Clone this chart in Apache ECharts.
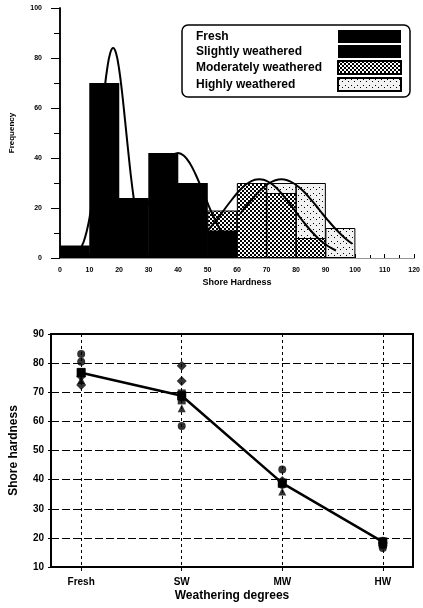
<!DOCTYPE html>
<html><head><meta charset="utf-8">
<script src="https://cdn.jsdelivr.net/npm/echarts@6/dist/echarts.min.js"></script>
<style>html,body{margin:0;padding:0;background:#fff}#c{width:423px;height:608px}</style>
</head><body><div id="c"></div>
<script>
// ---------- Top chart: histogram of Shore hardness ----------
const legendNames = ['Fresh', 'Slightly weathered', 'Moderately weathered', 'Highly weathered'];
const freshBins = [5, 15, 25];
const freshFreq = [5, 70, 24];
const swBins = [35, 45, 55];
const swFreq = [42, 30, 11];
const mwBins = [55, 65, 75, 85];
const mwFreq = [19, 30, 26, 8];
const hwBins = [75, 85, 95];
const hwFreq = [30, 30, 12];
const xTicksTop = [0, 10, 20, 30, 40, 50, 60, 70, 80, 90, 100, 110, 120];
// fitted curves
const curve1X = [6, 8, 10, 12, 13, 14, 15, 16, 17, 18, 19, 20, 21, 22, 23, 24, 25, 26, 28, 30];
const curve1Y = [2, 6.4, 16, 33, 44, 55.5, 66.6, 75.8, 81.9, 84, 81.9, 75.8, 66.6, 55.5, 44, 33, 23.7, 16, 6.4, 2];
const curve2X = [20, 22, 24, 26, 28, 30, 32, 34, 36, 38, 40, 42, 44, 46, 48, 50, 52, 54, 56, 58, 60];
const curve2Y = [3.2, 5.2, 8, 11.9, 16.6, 22, 27.8, 33.3, 37.9, 40.9, 42, 40.9, 37.9, 33.3, 27.8, 22, 16.6, 11.9, 8, 5.2, 3.2];
const curve3X = [50, 52, 54, 56, 58, 60, 62, 64, 66, 67.5, 69, 71, 73, 75, 77, 79, 81, 83, 85, 87, 89, 91, 93.5];
const curve3Y = [10.9, 13.7, 16.7, 19.9, 23, 25.9, 28.4, 30.2, 31.3, 31.5, 31.3, 30.2, 28.4, 25.9, 23, 19.9, 16.7, 13.7, 10.9, 8.4, 6.3, 4.6, 3];
const curve4X = [61, 63, 65, 67, 69, 71, 73, 75, 77, 79, 81, 83, 85, 87, 89, 91, 93, 95, 97, 99];
const curve4Y = [17.6, 20.6, 23.4, 26.1, 28.3, 30, 31.1, 31.5, 31.1, 30, 28.3, 26.1, 23.4, 20.6, 17.6, 14.8, 12.1, 9.7, 7.5, 5.7];

// ---------- Bottom chart: Shore hardness vs weathering degree ----------
const degreeLabels = ['Fresh', 'SW', 'MW', 'HW'];
const degreeIndex = [1, 2, 3, 4];
const meanHardness = [76.7, 68.8, 38.8, 18.6];
const circlePts = [[1, 83.1], [1, 80.5], [2, 68.2], [2, 58.4], [3, 43.5], [3, 38.2], [4, 17.4], [4, 16.5], [4, 19.0]];
const diamondPts = [[1, 75.5], [1, 72.5], [2, 79.1], [2, 73.9], [3, 39.5], [4, 18.2]];
const trianglePts = [[1, 74.2], [2, 64.5], [3, 35.9]];
const squarePts = [[1, 77.0], [2, 69.6], [2, 67.2], [3, 38.7], [4, 17.8]];

const FONT = "'Liberation Sans', Arial, sans-serif";

function makePattern(size, dots, bg) {
  const c = document.createElement('canvas');
  c.width = size; c.height = size;
  const g = c.getContext('2d');
  g.fillStyle = bg; g.fillRect(0, 0, size, size);
  g.fillStyle = '#000';
  dots.forEach(d => g.fillRect(d[0], d[1], d[2], d[2]));
  return { image: c, repeat: 'repeat' };
}
const mwPattern = makePattern(4, [[0, 0, 2], [2, 2, 2]], '#ffffff');
const hwPattern = makePattern(6, [[1, 1, 1], [4, 3, 1]], '#f2f2f2');

function pairs(xs, ys) { return xs.map((x, i) => [x, ys[i]]); }

const curveStyle = { type: 'line', xAxisIndex: 0, yAxisIndex: 0, smooth: 0.4, showSymbol: false, symbol: 'none', z: 7, silent: true,
  lineStyle: { color: '#000', width: 2 } };
const barBase = { type: 'bar', xAxisIndex: 0, yAxisIndex: 0, barWidth: 30, barGap: '-100%' };
const scatterBase = { type: 'scatter', xAxisIndex: 2, yAxisIndex: 2, symbolSize: 8, itemStyle: { color: '#000' }, z: 4 };

const option = {
  animation: false,
  backgroundColor: '#fff',
  textStyle: { fontFamily: FONT },
  legend: {
    data: legendNames,
    left: 182, top: 25, orient: 'vertical', align: 'right',
    itemWidth: 63, itemHeight: 13, itemGap: 2, icon: 'rect',
    padding: [5, 8, 5, 14],
    borderColor: '#000', borderWidth: 1.5, borderRadius: 6,
    formatter: '{t|{name}}',
    textStyle: { fontFamily: FONT, fontSize: 12, fontWeight: 'bold', color: '#000',
      rich: { t: { width: 137, align: 'left', fontFamily: FONT, fontSize: 12, fontWeight: 'bold', color: '#000' } } }
  },
  grid: [
    { left: 58, right: 5, top: 8, bottom: 350, containLabel: false },
    { left: 42, right: 10, top: 334, bottom: 41, show: true, borderColor: '#000', borderWidth: 2, containLabel: false }
  ],
  xAxis: [
    { type: 'value', gridIndex: 0, min: 0, max: 120, interval: 10,
      name: 'Shore Hardness', nameLocation: 'middle', nameGap: 20,
      nameTextStyle: { fontSize: 9, fontWeight: 'bold', color: '#000' },
      axisLine: { lineStyle: { color: '#444', type: 'dotted', width: 1 } },
      axisTick: { inside: true, length: 4, lineStyle: { color: '#000' } },
      minorTick: { show: true, splitNumber: 2, length: 3, lineStyle: { color: '#000' } },
      axisLabel: { fontSize: 7, fontWeight: 'bold', color: '#000', margin: 9,
        formatter: v => xTicksTop.indexOf(v) >= 0 ? String(v) : '' },
      splitLine: { show: false } },
    { type: 'value', gridIndex: 0, min: 0, max: 120, position: 'top',
      axisLine: { show: true, lineStyle: { color: '#999', type: 'dotted', width: 1 } },
      axisTick: { show: false }, axisLabel: { show: false }, splitLine: { show: false } },
    { type: 'value', gridIndex: 1, min: 0.7, max: 4.3, splitNumber: 4,
      name: 'Weathering degrees', nameLocation: 'middle', nameGap: 23,
      nameTextStyle: { fontSize: 12, fontWeight: 'bold', color: '#000' },
      axisLine: { lineStyle: { color: '#000', width: 2 } },
      axisTick: { show: true, length: 4, lineStyle: { color: '#000' } },
      axisLabel: { fontSize: 10, fontWeight: 'bold', color: '#000', margin: 10, showMinLabel: false, showMaxLabel: false,
        formatter: v => { const i = degreeIndex.indexOf(Math.round(v * 1000) / 1000); return i >= 0 ? degreeLabels[i] : ''; } },
      splitLine: { show: true, lineStyle: { color: '#000', type: [3, 3], width: 1 } } }
  ],
  yAxis: [
    { type: 'value', gridIndex: 0, min: 0, max: 100, interval: 20,
      name: 'Frequency', nameLocation: 'middle', nameGap: 44, nameRotate: 90,
      nameTextStyle: { fontSize: 8, fontWeight: 'bold', color: '#000' },
      axisLine: { show: true, lineStyle: { color: '#000', width: 1.5 } },
      axisTick: { show: true, length: 9, lineStyle: { color: '#000' } },
      minorTick: { show: true, splitNumber: 2, length: 6, lineStyle: { color: '#000' } },
      axisLabel: { fontSize: 7, fontWeight: 'bold', color: '#000', margin: 18 },
      splitLine: { show: false } },
    { type: 'value', gridIndex: 0, min: 0, max: 100, position: 'right',
      axisLine: { show: true, lineStyle: { color: '#000', width: 1.5 } },
      axisTick: { show: false }, axisLabel: { show: false }, splitLine: { show: false } },
    { type: 'value', gridIndex: 1, min: 10, max: 90, interval: 10,
      name: 'Shore hardness', nameLocation: 'middle', nameGap: 31, nameRotate: 90,
      nameTextStyle: { fontSize: 12, fontWeight: 'bold', color: '#000' },
      axisLine: { show: true, lineStyle: { color: '#000', width: 2 } },
      axisTick: { show: true, length: 3, lineStyle: { color: '#000' } },
      axisLabel: { fontSize: 10, fontWeight: 'bold', color: '#000', margin: 7 },
      splitLine: { show: true, lineStyle: { color: '#000', type: [8, 3], width: 1 } } }
  ],
  series: [
    Object.assign({}, barBase, { name: legendNames[0], z: 5, data: pairs(freshBins, freshFreq), itemStyle: { color: '#000' } }),
    Object.assign({}, barBase, { name: legendNames[1], z: 5, data: pairs(swBins, swFreq), itemStyle: { color: '#000' } }),
    Object.assign({}, barBase, { name: legendNames[2], z: 4, data: pairs(mwBins, mwFreq), itemStyle: { color: mwPattern, borderColor: '#000', borderWidth: 1 } }),
    Object.assign({}, barBase, { name: legendNames[3], z: 3, data: pairs(hwBins, hwFreq), itemStyle: { color: hwPattern, borderColor: '#000', borderWidth: 1 } }),
    Object.assign({}, curveStyle, { data: pairs(curve1X, curve1Y) }),
    Object.assign({}, curveStyle, { data: pairs(curve2X, curve2Y) }),
    Object.assign({}, curveStyle, { data: pairs(curve3X, curve3Y) }),
    Object.assign({}, curveStyle, { data: pairs(curve4X, curve4Y) }),
    { type: 'line', xAxisIndex: 2, yAxisIndex: 2, data: pairs(degreeIndex, meanHardness),
      symbol: 'rect', symbolSize: 9, itemStyle: { color: '#000' }, lineStyle: { color: '#000', width: 2.5 }, z: 5 },
    Object.assign({}, scatterBase, { symbol: 'circle', data: circlePts }),
    Object.assign({}, scatterBase, { symbol: 'diamond', symbolSize: 10, data: diamondPts }),
    Object.assign({}, scatterBase, { symbol: 'triangle', data: trianglePts }),
    Object.assign({}, scatterBase, { symbol: 'rect', data: squarePts })
  ]
};
const chart = echarts.init(document.getElementById('c'), null, { renderer: 'canvas' });
chart.setOption(option);
</script>
</body></html>
